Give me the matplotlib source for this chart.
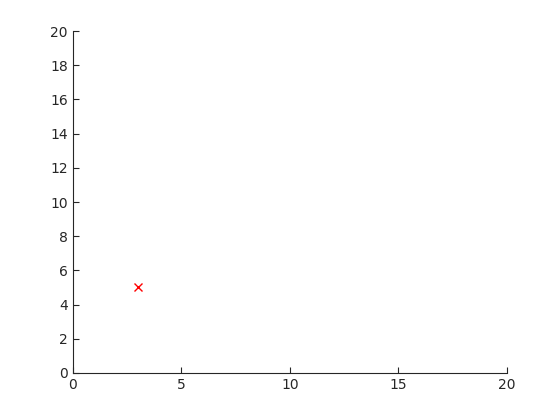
import matplotlib
matplotlib.use("Agg")
import matplotlib.pyplot as plt

x_vals = [3]
y_vals = [5]
x_ticks = [0, 5, 10, 15, 20]
y_ticks = [0, 2, 4, 6, 8, 10, 12, 14, 16, 18, 20]

fig = plt.figure(figsize=(5.6, 4.2), dpi=100)
ax = fig.add_axes([0.130, 0.112, 0.775, 0.814])
ax.plot(x_vals, y_vals, 'x', color='red', markersize=6, markeredgewidth=1)
ax.set_xlim(0, 20)
ax.set_ylim(0, 20)
ax.set_xticks(x_ticks)
ax.set_yticks(y_ticks)
ax.spines['top'].set_visible(False)
ax.spines['right'].set_visible(False)
for s in ('left', 'bottom'):
    ax.spines[s].set_color('#262626')
    ax.spines[s].set_linewidth(0.8)
ax.tick_params(direction='in', length=4, colors='#262626', labelsize=10, width=0.8)
fig.savefig('out.png', dpi=100)
